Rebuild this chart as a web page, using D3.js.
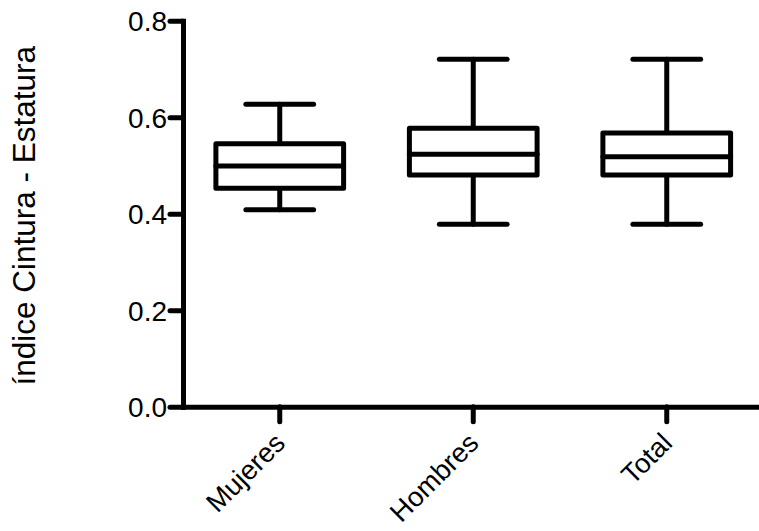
<!DOCTYPE html>
<html>
<head>
<meta charset="utf-8">
<script src="https://cdn.jsdelivr.net/npm/d3@7"></script>
<style>
  body { margin: 0; background: #fff; }
  svg { display: block; }
</style>
</head>
<body>
<div id="wrapper"></div>
<script>
// Data
const categories = ["Mujeres", "Hombres", "Total"]
const whiskerLow = [0.408, 0.378, 0.378]
const boxLow = [0.453, 0.480, 0.480]
const medians = [0.499, 0.523, 0.518]
const boxHigh = [0.545, 0.577, 0.567]
const whiskerHigh = [0.627, 0.720, 0.720]
const yTicks = [0, 0.2, 0.4, 0.6, 0.8]
const yLabel = "índice Cintura - Estatura"

const dataset = categories.map((c, i) => ({
  cat: c,
  lo: whiskerLow[i],
  q1: boxLow[i],
  med: medians[i],
  q3: boxHigh[i],
  hi: whiskerHigh[i],
}))

const dms = {
  width: 759,
  height: 531,
  left: 183,
  right: 763.5,
  top: 20.7,
  bottom: 406.7,
}

const wrapper = d3.select("#wrapper")
  .append("svg")
  .attr("width", dms.width)
  .attr("height", dms.height)

const xScale = d3.scaleBand()
  .domain(categories)
  .range([dms.left, dms.right])

const yScale = d3.scaleLinear()
  .domain([0, 0.8])
  .range([dms.bottom, dms.top])

const step = xScale.step()
const boxHalf = step * 0.33
const capHalf = step * 0.175
const cx = d => xScale(d.cat) + xScale.bandwidth() / 2

const stroke = 5

// Boxes
const boxGroup = wrapper.append("g")
  .attr("fill", "none")
  .attr("stroke", "black")
  .attr("stroke-width", stroke)
  .attr("stroke-linejoin", "round")
  .attr("stroke-linecap", "round")

const box = boxGroup.selectAll("g")
  .data(dataset)
  .join("g")

// upper whisker
box.append("line")
  .attr("x1", cx).attr("x2", cx)
  .attr("y1", d => yScale(d.q3))
  .attr("y2", d => yScale(d.hi))
box.append("line")
  .attr("x1", d => cx(d) - capHalf).attr("x2", d => cx(d) + capHalf)
  .attr("y1", d => yScale(d.hi))
  .attr("y2", d => yScale(d.hi))

// lower whisker
box.append("line")
  .attr("x1", cx).attr("x2", cx)
  .attr("y1", d => yScale(d.q1))
  .attr("y2", d => yScale(d.lo))
box.append("line")
  .attr("x1", d => cx(d) - capHalf).attr("x2", d => cx(d) + capHalf)
  .attr("y1", d => yScale(d.lo))
  .attr("y2", d => yScale(d.lo))

box.append("rect")
  .attr("x", d => cx(d) - boxHalf)
  .attr("y", d => yScale(d.q3))
  .attr("width", boxHalf * 2)
  .attr("height", d => yScale(d.q1) - yScale(d.q3))
  .attr("fill", "white")

box.append("line")
  .attr("x1", d => cx(d) - boxHalf).attr("x2", d => cx(d) + boxHalf)
  .attr("y1", d => yScale(d.med))
  .attr("y2", d => yScale(d.med))

// Axes
const font = "'Liberation Sans', Arial, sans-serif"

const yAxisGenerator = d3.axisLeft(yScale)
  .tickValues(yTicks)
  .tickFormat(d3.format(".1f"))
  .tickSize(13)
  .tickSizeOuter(0)
  .tickPadding(3)

const yAxis = wrapper.append("g")
  .attr("transform", `translate(${dms.left},0)`)
  .call(yAxisGenerator)

const xAxisGenerator = d3.axisBottom(xScale)
  .tickSize(15)
  .tickSizeOuter(0)
  .tickFormat("")

const xAxis = wrapper.append("g")
  .attr("transform", `translate(0,${dms.bottom})`)
  .call(xAxisGenerator)

wrapper.selectAll(".domain, .tick line")
  .attr("stroke", "black")
  .attr("stroke-width", stroke)
  .attr("stroke-linecap", "round")

wrapper.selectAll(".domain")
  .attr("stroke-linecap", "square")

yAxis.selectAll(".tick text")
  .attr("fill", "black")
  .attr("font-size", "28px")
  .attr("font-family", font)
  .attr("dy", "0.35em")

xAxis.selectAll(".tick")
  .append("text")
  .text(d => d)
  .attr("fill", "black")
  .attr("font-size", "27.5px")
  .attr("font-family", font)
  .attr("text-anchor", "end")
  .attr("transform", "translate(7,38) rotate(-45)")

wrapper.append("text")
  .attr("transform", `translate(35,${(dms.top + dms.bottom) / 2 + 2}) rotate(-90)`)
  .attr("text-anchor", "middle")
  .attr("font-size", "31.5px")
  .attr("font-family", font)
  .attr("fill", "black")
  .text(yLabel)
</script>
</body>
</html>
